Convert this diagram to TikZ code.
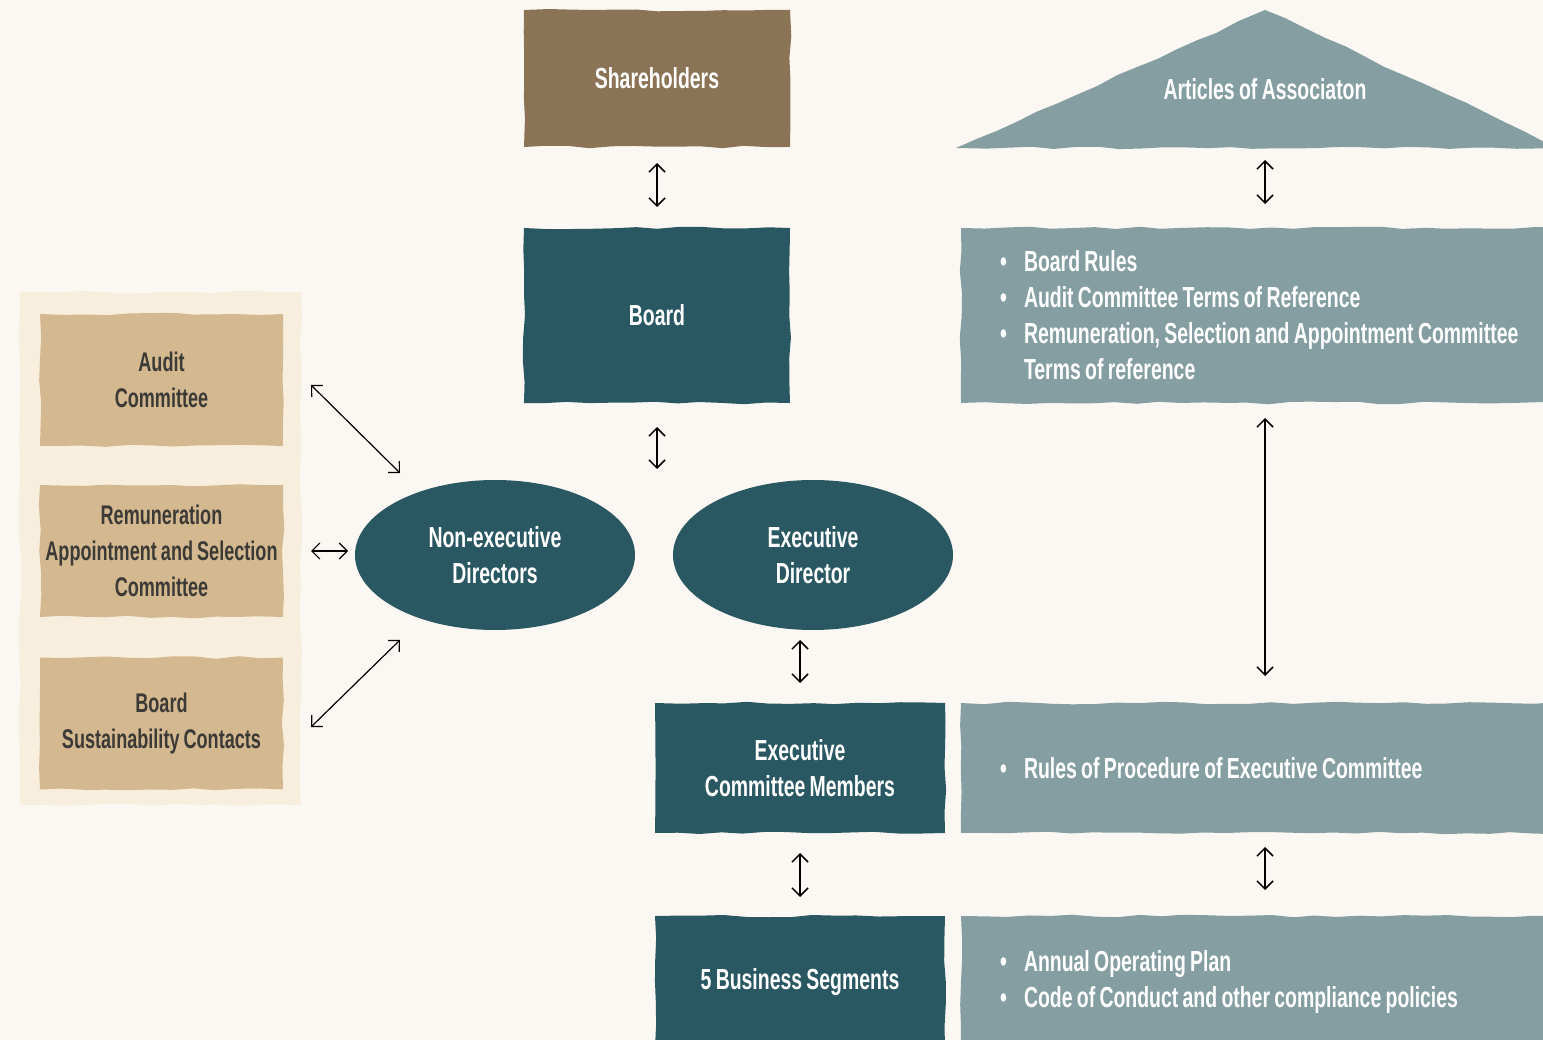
\documentclass[tikz,border=0pt]{standalone}
\usepackage{fontspec}
\setmainfont{Liberation Sans}[FakeStretch=0.67, WordSpace=0.8]
\usetikzlibrary{arrows.meta,calc,decorations.pathmorphing,shapes.geometric}
\definecolor{bgcol}{HTML}{FBF8F3}
\definecolor{browncol}{HTML}{8B7355}
\definecolor{tealcol}{HTML}{2A5862}
\definecolor{greycol}{HTML}{849EA2}
\definecolor{tancol}{HTML}{D4B990}
\definecolor{panelcol}{HTML}{F7EEDD}
\definecolor{inkcol}{HTML}{3B3A36}
\newcommand{\bul}{\makebox[24pt][l]{\textbullet}}
\begin{document}
\begin{tikzpicture}[x=1pt, y=-1pt,
  every node/.style={font=\fontsize{29}{36}\selectfont\bfseries, align=center, inner sep=0pt, outer sep=0pt},
  rough/.style={decorate, decoration={random steps, segment length=22pt, amplitude=1.3pt}},
  darkbox/.style={rough, fill=tealcol, text=white, minimum width=266pt},
  greybox/.style={rough, fill=greycol, text=white, anchor=west, text width=562pt, inner xsep=39pt, align=flush left},
  tanbox/.style={rough, fill=tancol, text=inkcol, minimum width=243pt, minimum height=132pt,
    font=\fontsize{27}{36}\selectfont\bfseries},
  director/.style={ellipse, fill=tealcol, text=white, minimum width=280pt, minimum height=150pt},
  biarr/.style={{Straight Barb[length=8pt,width=16pt]}-{Straight Barb[length=8pt,width=16pt]}, line width=1.5pt, black}]
  \pgfmathsetseed{7}
  %% background and page size
  \path[use as bounding box, fill=bgcol] (0,0) rectangle (1543,1040);
  %% committees on the left
  \node[rough, fill=panelcol, minimum width=281pt, minimum height=513pt] (panel) at (160.5,548.5) {};
  \node[tanbox] (audit) at (161.5,380) {Audit\\Committee};
  \node[tanbox] (remun) at (161.5,551) {Remuneration\\Appointment and Selection\\Committee};
  \node[tanbox] (sust) at (161.5,723.5) {Board\\Sustainability Contacts};
  %% middle column
  \node[darkbox, fill=browncol, minimum height=137pt] (share) at (657,78.5) {Shareholders};
  \node[darkbox, minimum height=175pt] (board) at (657,315.5) {Board};
  \node[director] (nonexec) at (495,555) {Non-executive\\Directors};
  \node[director] (exec) at (813,555) {Executive\\Director};
  \coordinate (dirtop) at (657,480);
  \node[darkbox, minimum width=290pt, minimum height=130pt] (ecm) at (800,768) {Executive\\Committee Members};
  \node[darkbox, minimum width=290pt, minimum height=132pt] (segs) at (800,982) {5 Business Segments};
  %% rules on the right
  \fill[greycol, rough] (956,148) -- (1265,10) -- (1560,148) -- cycle;
  \node[text=white] (articles) at (1265,89) {Articles of Associaton};
  \coordinate (artbase) at (1265,148);
  \node[greybox, minimum height=175pt] (rules) at (961,315.5) {%
    \bul Board Rules\\
    \bul Audit Committee Terms of Reference\\
    \bul Remuneration, Selection and Appointment Committee\\
    \hspace*{24pt}Terms of reference};
  \node[greybox, minimum height=130pt] (procs) at (961,768) {%
    \bul Rules of Procedure of Executive Committee};
  \node[greybox, minimum height=132pt] (plans) at (961,982) {%
    \bul Annual Operating Plan\\
    \bul Code of Conduct and other compliance policies};
  %% arrows
  \draw[biarr, shorten <=16pt, shorten >=21pt] (share.south) -- (board.north);
  \draw[biarr, shorten <=24pt, shorten >=11pt] (board.south) -- (dirtop);
  \draw[biarr, shorten <=10pt, shorten >=20pt] (exec.south -| ecm.north) -- (ecm.north);
  \draw[biarr, shorten <=20pt, shorten >=19pt] (ecm.south) -- (segs.north);
  \draw[biarr, shorten <=12pt, shorten >=24pt] (artbase) -- (artbase |- rules.north);
  \draw[biarr, shorten <=15pt, shorten >=27pt] (artbase |- rules.south) -- (artbase |- procs.north);
  \draw[biarr, shorten <=14pt, shorten >=26pt] (artbase |- procs.south) -- (artbase |- plans.north);
  % committees to non-executive directors
  \draw[biarr, line width=1.2pt] ($(audit.east)+(28,5)$) -- ($(nonexec.west)+(45,-82)$);
  \draw[biarr, line width=1.2pt, shorten <=28pt, shorten >=7pt] (remun.east) -- (nonexec.west |- remun.east);
  \draw[biarr, line width=1.2pt] ($(sust.east)+(28,3.5)$) -- ($(nonexec.west)+(45,85)$);
\end{tikzpicture}
\end{document}
